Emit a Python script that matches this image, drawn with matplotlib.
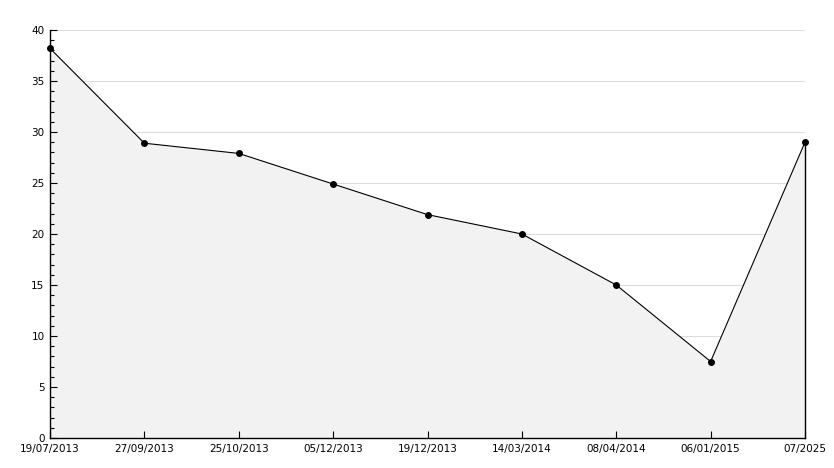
import matplotlib
matplotlib.use("Agg")
import matplotlib.pyplot as plt
import matplotlib.ticker as ticker

# data
dates = ["19/07/2013", "27/09/2013", "25/10/2013", "05/12/2013", "19/12/2013",
         "14/03/2014", "08/04/2014", "06/01/2015", "07/2025"]
values = [38.2, 28.9, 27.9, 24.9, 21.9, 20.0, 15.0, 7.5, 29.0]
grid_levels = [5, 10, 15, 20, 25, 30, 35, 40]

fig = plt.figure(figsize=(8.34, 4.68), dpi=100)
ax = fig.add_axes([50 / 834, 30 / 468, 755 / 834, 408 / 468])

x = list(range(len(values)))

# grid lines behind the filled area, ticks stay on top
for level in grid_levels:
    ax.axhline(level, color="#dddddd", linewidth=0.8, zorder=0.5)

ax.fill_between(x, values, 0, color="#f2f2f2", linewidth=0, zorder=1)
ax.plot([x[-1], x[-1]], [0, values[-1]], color="black", linewidth=1, zorder=3, clip_on=False)
ax.plot(x, values, color="black", linewidth=0.8, marker="o", markersize=4, zorder=4, clip_on=False)

# Format axes
ax.set_xlim(0, len(values) - 1)
ax.set_ylim(0, 40)
ax.set_xticks(x)
ax.set_xticklabels(dates)
ax.yaxis.set_major_locator(ticker.MultipleLocator(5))
ax.yaxis.set_minor_locator(ticker.MultipleLocator(1))
ax.tick_params(axis="both", direction="in", labelsize=7.5, length=5, width=0.8, pad=4)
ax.tick_params(axis="y", which="minor", direction="in", length=3, width=0.8)
for side in ["top", "right"]:
    ax.spines[side].set_visible(False)
for side in ["left", "bottom"]:
    ax.spines[side].set_linewidth(1)
    ax.spines[side].set_zorder(5)

fig.savefig("out.png", dpi=100)
